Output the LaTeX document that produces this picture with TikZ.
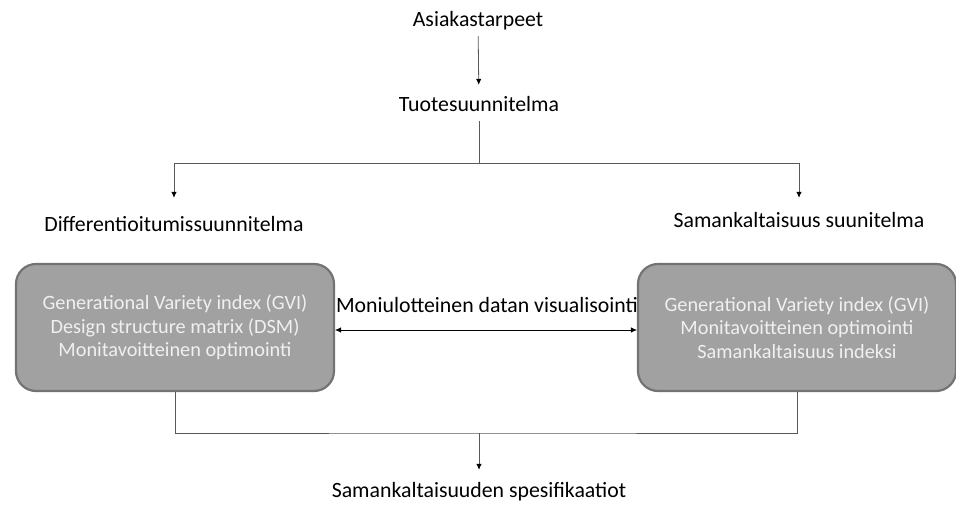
\documentclass[tikz,border=0pt]{standalone}
\usepackage{fontspec}
\setmainfont{Carlito}
\usetikzlibrary{arrows.meta}
\begin{document}
\begin{tikzpicture}[x=1pt,y=-1pt,
  txt/.style={inner sep=0pt,font=\fontsize{21.8}{26}\selectfont,text height=17pt,text depth=3pt},
  box/.style={draw=black!55,line width=2.2pt,fill=black!37,rounded corners=20pt,
     minimum width=318pt,minimum height=127pt,align=center,text=black!6,
     font=\fontsize{20.3}{23.5}\selectfont},
  ln/.style={draw=black!65,line width=0.8pt},
  arr/.style={ln,-{Latex[length=6pt,width=5.5pt,black]}},
  darr/.style={draw=black,line width=0.6pt,{Latex[length=6pt,width=5.5pt]}-{Latex[length=6pt,width=5.5pt]}}]
\useasboundingbox (0,0) rectangle (956,505);
\node[txt] (a) at (478,20) {Asiakastarpeet};
\node[txt] (t) at (479,105) {Tuotesuunnitelma};
\node[txt] (d) at (174,225) {Differentioitumissuunnitelma};
\node[txt] (s) at (799,221) {Samankaltaisuus suunitelma};
\node[box] (l) at (175,327.5) {Generational Variety index (GVI)\\Design structure matrix (DSM)\\Monitavoitteinen optimointi};
\node[box] (r) at (797,327.5) {Generational Variety index (GVI)\\Monitavoitteinen optimointi\\Samankaltaisuus indeksi};
\node[txt] (m) at (487,305) {Moniulotteinen datan visualisointi};
\node[txt] (f) at (479,490) {Samankaltaisuuden spesifikaatiot};
\coordinate (jt) at (479,163);
\coordinate (jb) at (479,433);
\draw[arr,shorten <=6pt,shorten >=10pt] (a) -- (t);
\draw[ln,shorten <=6pt] (t) -- (jt);
\draw[arr,shorten >=17pt] (jt) -| (d);
\draw[arr,shorten >=13pt] (jt) -| (s);
\draw[darr] ([yshift=-2.5pt]l.east) -- ([yshift=-2.5pt]r.west);
\draw[ln] (l.south) |- (jb) -| (r.south);
\draw[arr,shorten >=10pt] (jb) -- (f);
\end{tikzpicture}
\end{document}
